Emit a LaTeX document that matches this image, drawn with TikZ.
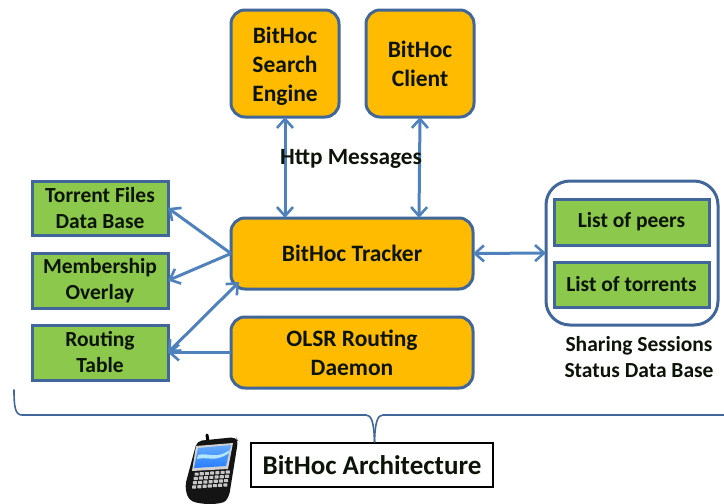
\documentclass[tikz,border=0pt]{standalone}
\usepackage{fontspec}
\setmainfont{Carlito}
\usetikzlibrary{arrows.meta,calc}
\definecolor{edgeblue}{HTML}{41679A}
\definecolor{arrowblue}{HTML}{4F81BD}
\definecolor{fillorange}{HTML}{FFBB00}
\definecolor{fillgreen}{HTML}{8CC84B}
\definecolor{txt}{HTML}{0C1408}
\tikzset{
  base/.style={draw=edgeblue,line width=3pt,outer sep=0pt,inner sep=0pt,align=center,text=txt,font=\bfseries\fontsize{23.5}{29}\selectfont},
  orangebox/.style={base,fill=fillorange,rounded corners=14pt},
  greenbox/.style={base,fill=fillgreen,font=\bfseries\fontsize{21.5}{26}\selectfont},
  plain/.style={align=center,text=txt,inner sep=0pt,font=\bfseries\fontsize{21.5}{26}\selectfont},
  link/.style={draw=arrowblue,line width=3pt,{Straight Barb[length=9pt,width=16pt,line width=2.6pt]}-{Straight Barb[length=9pt,width=16pt,line width=2.6pt]}},
  linkone/.style={draw=arrowblue,line width=3pt,-{Straight Barb[length=9pt,width=16pt,line width=2.6pt]}}
}
\begin{document}
\begin{tikzpicture}[x=1pt,y=-1pt]
\useasboundingbox (0,0) rectangle (724,504);
\node[orangebox,minimum width=108pt,minimum height=107pt] (se) at (285,63.5) {\rule{0pt}{22pt}BitHoc\\Search\\Engine};
\node[orangebox,minimum width=108pt,minimum height=107pt] (cl) at (420,63.5) {BitHoc\\Client};
\node[orangebox,minimum width=242pt,minimum height=71pt] (tr) at (352,253.5) {BitHoc Tracker};
\node[orangebox,minimum width=242pt,minimum height=71pt] (ol) at (352,352.5) {OLSR Routing\\Daemon};
\node[greenbox,minimum width=136pt,minimum height=54pt] (tf) at (100,208) {Torrent Files\\Data Base};
\node[greenbox,minimum width=136pt,minimum height=55pt] (mo) at (100,280.5) {Membership\\Overlay};
\node[greenbox,minimum width=136pt,minimum height=55pt] (rt) at (100,352.5) {Routing\\Table};
\node[draw=edgeblue,line width=3pt,rounded corners=24pt,minimum width=172pt,minimum height=144pt,outer sep=0pt] (db) at (632,253) {};
\node[greenbox,minimum width=155pt,minimum height=46pt] (lp) at (631.5,222) {List of peers};
\node[greenbox,minimum width=155pt,minimum height=45pt] (lt) at (631.5,284.5) {List of torrents};
\node[plain] (cap) at (639,357) {Sharing Sessions\\Status Data Base};
\node[draw=black,line width=1.2pt,minimum width=242pt,minimum height=44pt,inner sep=0pt,outer sep=0pt,text=txt,font=\bfseries\fontsize{27}{30}\selectfont] (ar) at (372,465) {BitHoc Architecture};
% connectors
\draw[link] (se.south) -- (se.south |- tr.north);
\draw[link] (cl.south) -- ($(cl.south |- tr.north)+(-1,0)$);
\node[plain,font=\bfseries\fontsize{23.3}{26}\selectfont] (hm) at (351,159) {Http Messages};
\draw[linkone] (tr.west) -- (tf.east);
\draw[linkone] (tr.west) -- (mo.east);
\draw[link] ($(tr.south west)+(8,-7)$) -- (rt.east);
\draw[linkone] (ol.west) -- (rt.east);
\draw[link] (tr.east) -- (db.west);
% brace
\coordinate (bl) at (14,390);
\coordinate (br) at (724,415);
\draw[draw=edgeblue,line width=1.6pt,line cap=round] (bl) .. controls (14,406) and (15,415) .. (22,415) -- (366,415) .. controls (371,415) and (374,421) .. (374.5,442);
\draw[draw=edgeblue,line width=1.6pt] (ar.north) ++(2.5,-1) .. controls (375,421) and (378,415) .. (383,415) -- (br);
% phone
\draw[black,line width=3pt,line cap=round] (208,442) -- (207,435);
\fill[black!92,rounded corners=5pt] (197,441) -- (236,437) -- (238,441) -- (229,497) .. controls (222,505) and (200,505) .. (188,499) -- (185,486) -- cycle;
\fill[black!18] (196,446) -- (233,443) -- (228,469) -- (192,471) -- cycle;
\shade[top color=cyan!45!blue!60,bottom color=cyan!40!blue!85] (198,448) -- (231,445) -- (226,466) -- (194,468) -- cycle;
\fill[cyan!30] (198,455) .. controls (208,452) and (215,460) .. (230,450) -- (229,453) .. controls (215,463) and (207,456) .. (197,459) -- cycle;
\foreach \r in {0,1,2,3}
  \foreach \c in {0,...,6}
    \fill[black!22,rounded corners=0.5pt] ({194.5-\r*0.8+\c*5.2},{472.5+\r*4.3-\c*0.35}) rectangle ++(4.1,3.2);
\end{tikzpicture}
\end{document}
